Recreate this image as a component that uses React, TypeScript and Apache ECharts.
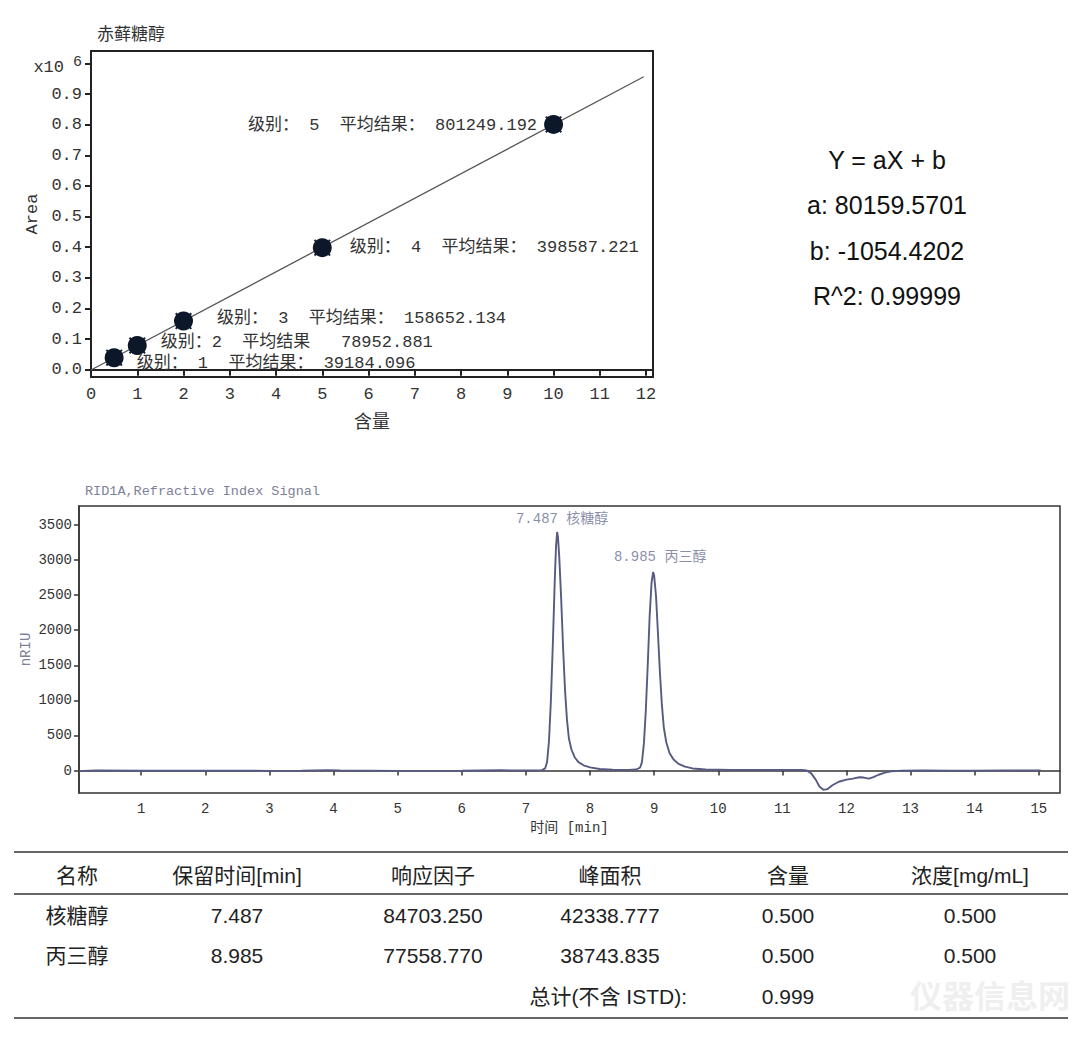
import React, { useEffect, useRef } from "react";
import * as echarts from "echarts";

// ---------- calibration data ----------
const calAmounts = [0.5, 1, 2, 5, 10];
const calAreas = [39184.096, 78952.881, 158652.134, 398587.221, 801249.192];
const calLabels = [
  "级别： 1  平均结果： 39184.096",
  "级别：2  平均结果   78952.881",
  "级别： 3  平均结果： 158652.134",
  "级别： 4  平均结果： 398587.221",
  "级别： 5  平均结果： 801249.192",
];
const fitLine = [
  [0, -1054.42],
  [11.95, 956853],
];
const calXTicks = [0, 1, 2, 3, 4, 5, 6, 7, 8, 9, 10, 11, 12];
const calYTicks = [0, 100000, 200000, 300000, 400000, 500000, 600000, 700000, 800000, 900000, 1000000];
const calTitle = "赤藓糖醇";

const eqLines = ["Y = aX + b", "a: 80159.5701", "b: -1054.4202", "R^2: 0.99999"];

// ---------- chromatogram data ----------
const chromTrace = [
  [0.03, -12], [0.1, -5], [0.3, 0], [1.0, -2], [2.0, -3], [3.0, -4], [3.5, -2], [3.9, 6], [4.1, 0],
  [5.0, -4], [6.0, -3], [6.6, 5], [6.9, 0], [7.2, 2], [7.25, 5], [7.3, 30], [7.33, 120], [7.36, 420],
  [7.39, 1000], [7.42, 1800], [7.45, 2700], [7.47, 3200], [7.487, 3400], [7.5, 3330], [7.52, 3050],
  [7.55, 2450], [7.58, 1750], [7.61, 1150], [7.64, 730], [7.67, 460], [7.71, 300], [7.76, 190],
  [7.82, 120], [7.9, 75], [8.0, 45], [8.15, 22], [8.35, 12], [8.6, 10], [8.72, 15], [8.78, 40],
  [8.81, 120], [8.84, 380], [8.87, 850], [8.9, 1500], [8.93, 2200], [8.96, 2680], [8.985, 2830],
  [9.0, 2780], [9.03, 2480], [9.06, 1950], [9.09, 1400], [9.12, 950], [9.15, 620], [9.19, 400],
  [9.24, 250], [9.3, 160], [9.38, 95], [9.48, 55], [9.6, 30], [9.8, 15], [10.2, 10], [10.8, 10],
  [11.3, 8], [11.38, 0], [11.45, -40], [11.52, -130], [11.58, -230], [11.64, -275], [11.7, -265],
  [11.78, -210], [11.88, -160], [12.0, -130], [12.1, -115], [12.2, -95], [12.27, -100], [12.35, -115],
  [12.42, -95], [12.5, -60], [12.6, -30], [12.7, -12], [12.85, -2], [13.2, 0], [13.6, -3], [14.0, -1],
  [14.5, 0], [15.03, 0],
];
const peakTimes = [7.487, 8.985];
const peakHeights = [3400, 2830];
const peakNames = ["核糖醇", "丙三醇"];
const chromXTicks = [1, 2, 3, 4, 5, 6, 7, 8, 9, 10, 11, 12, 13, 14, 15];
const chromYTicks = [0, 500, 1000, 1500, 2000, 2500, 3000, 3500];
const chromTitle = "RID1A,Refractive Index Signal";

// ---------- table ----------
const tableHeader = ["名称", "保留时间[min]", "响应因子", "峰面积", "含量", "浓度[mg/mL]"];
const tableRows = [
  ["核糖醇", "7.487", "84703.250", "42338.777", "0.500", "0.500"],
  ["丙三醇", "8.985", "77558.770", "38743.835", "0.500", "0.500"],
];
const totalLabel = "总计(不含 ISTD):";
const totalValue = "0.999";
const watermark = "仪器信息网";

const MONO = '"Liberation Mono", "Noto Sans CJK SC", monospace';
const SANS = '"Liberation Sans", "Noto Sans CJK SC", sans-serif';
const CJK = '"Noto Sans CJK SC", sans-serif';

// layout only
const calLabelLayout = [
  { position: "right", offset: [8, 6] },
  { position: "right", offset: [9, -3] },
  { position: "right", offset: [19, -3] },
  { position: "right", offset: [13, 0] },
  { position: "left", offset: [-2, 1] },
];
const peakLabelOffsets = [
  [5, -2],
  [7, -4],
];
const colX = [77, 237, 433, 610, 788, 970];
const rowY = [915, 955];

export default function App() {
  const ref = useRef<HTMLDivElement>(null);

  useEffect(() => {
    if (!ref.current) return;
    const chart = echarts.init(ref.current, undefined, { renderer: "svg" });

    const graphics: any[] = [];
    graphics.push({
      type: "text", x: 97, y: 32,
      style: { text: calTitle, fill: "#333", font: `17px ${CJK}`, align: "left", verticalAlign: "middle" },
    });
    eqLines.forEach((t, i) => {
      graphics.push({
        type: "text", x: 887, y: 160 + i * 45.3,
        style: { text: t, fill: "#111", font: `25px ${SANS}`, align: "center", verticalAlign: "middle" },
      });
    });
    graphics.push({
      type: "text", x: 85, y: 491,
      style: { text: chromTitle, fill: "#7d8199", font: `13.5px ${MONO}`, align: "left", verticalAlign: "middle" },
    });
    [852, 894, 1018].forEach((y) => {
      graphics.push({
        type: "line", shape: { x1: 14, y1: y, x2: 1068, y2: y },
        style: { stroke: "#666", lineWidth: 2 },
      });
    });
    tableHeader.forEach((t, i) => {
      graphics.push({
        type: "text", x: colX[i], y: 875,
        style: { text: t, fill: "#222", font: `21px ${SANS}`, align: "center", verticalAlign: "middle" },
      });
    });
    tableRows.forEach((row, r) => {
      row.forEach((t, i) => {
        graphics.push({
          type: "text", x: colX[i], y: rowY[r],
          style: { text: t, fill: "#222", font: `21px ${SANS}`, align: "center", verticalAlign: "middle" },
        });
      });
    });
    graphics.push({
      type: "text", x: 687, y: 996,
      style: { text: totalLabel, fill: "#222", font: `21px ${SANS}`, align: "right", verticalAlign: "middle" },
    });
    graphics.push({
      type: "text", x: colX[4], y: 996,
      style: { text: totalValue, fill: "#222", font: `21px ${SANS}`, align: "center", verticalAlign: "middle" },
    });
    graphics.push({
      type: "text", x: 990, y: 994, z: -1,
      style: { text: watermark, fill: "#efefef", font: `bold 32px ${CJK}`, align: "center", verticalAlign: "middle" },
    });

    const xMark = "path://M0,2L2,0L12,10L22,0L24,2L14,12L24,22L22,24L12,14L2,24L0,22L10,12Z";

    chart.setOption({
      animation: false,
      backgroundColor: "#ffffff",
      graphic: graphics,
      grid: [
        { left: 91, top: 51, width: 562, height: 326, show: true, borderColor: "#222", borderWidth: 2, backgroundColor: "transparent" },
        { left: 79, top: 506, width: 981, height: 287, show: true, borderColor: "#333", borderWidth: 1.5, backgroundColor: "transparent" },
      ],
      xAxis: [
        {
          type: "value", gridIndex: 0, min: 0, max: 12.15,
          name: "含量", nameLocation: "middle", nameGap: 34, nameMoveOverlap: false,
          nameTextStyle: { fontSize: 18, color: "#333", fontFamily: CJK },
          axisLine: { show: true, lineStyle: { color: "#222", width: 2 } },
          axisTick: { show: true, customValues: calXTicks, length: 6, inside: false, lineStyle: { color: "#222", width: 2 } },
          axisLabel: { customValues: calXTicks, margin: 9, fontSize: 17, color: "#333", fontFamily: MONO },
          splitLine: { show: false },
        },
        {
          type: "value", gridIndex: 1, min: 0.03, max: 15.33,
          name: "时间 [min]", nameLocation: "middle", nameGap: 28, nameMoveOverlap: false,
          nameTextStyle: { fontSize: 14, color: "#333", fontFamily: MONO },
          axisLine: { show: true, lineStyle: { color: "#333", width: 1.5 } },
          axisTick: { show: true, customValues: chromXTicks, length: 5, lineStyle: { color: "#333", width: 1.5 } },
          axisLabel: { customValues: chromXTicks, margin: 9, fontSize: 14, color: "#333", fontFamily: MONO },
          splitLine: { show: false },
        },
      ],
      yAxis: [
        {
          type: "value", gridIndex: 0, min: -24000, max: 1041000,
          name: "Area", nameLocation: "middle", nameRotate: 90, nameGap: 50, nameMoveOverlap: false,
          nameTextStyle: { fontSize: 17, color: "#333", fontFamily: MONO },
          axisLine: { show: true, lineStyle: { color: "#222", width: 2 } },
          axisTick: { show: true, customValues: calYTicks, length: 6, lineStyle: { color: "#222", width: 2 } },
          axisLabel: {
            customValues: calYTicks, margin: 9, fontSize: 17, color: "#333", fontFamily: MONO,
            formatter: (v: number) => (v >= 999999 ? "{b|x10}{s| 6}" : (v / 1e6).toFixed(1)),
            rich: {
              b: { fontSize: 17, color: "#333", fontFamily: MONO, padding: [8, 0, 0, 0] },
              s: { fontSize: 15, color: "#333", fontFamily: MONO, padding: [0, 0, 2, 0] },
            },
          },
          splitLine: { show: false },
        },
        {
          type: "value", gridIndex: 1, min: -320, max: 3770,
          name: "nRIU", nameLocation: "middle", nameRotate: 90, nameGap: 46, nameMoveOverlap: false,
          nameTextStyle: { fontSize: 14, color: "#7d8199", fontFamily: MONO },
          axisLine: { show: true, lineStyle: { color: "#333", width: 1.5 } },
          axisTick: { show: true, customValues: chromYTicks, length: 5, lineStyle: { color: "#333", width: 1.5 } },
          axisLabel: {
            customValues: chromYTicks, margin: 7, fontSize: 14, color: "#333", fontFamily: MONO,
            formatter: (v: number) => String(Math.round(v)),
          },
          splitLine: { show: false },
        },
      ],
      series: [
        {
          type: "line", xAxisIndex: 0, yAxisIndex: 0, data: fitLine, symbol: "none",
          lineStyle: { color: "#555", width: 1.3 }, z: 1,
        },
        {
          type: "scatter", xAxisIndex: 0, yAxisIndex: 0, symbol: xMark, symbolSize: 17,
          itemStyle: { color: "#1b2636", opacity: 1 }, z: 2,
          data: calAmounts.map((x, i) => [x, calAreas[i]]),
        },
        {
          type: "scatter", xAxisIndex: 0, yAxisIndex: 0, symbol: "circle", symbolSize: 19,
          itemStyle: { color: "#0c1829", opacity: 1 }, z: 3,
          data: calAmounts.map((x, i) => ({
            value: [x, calAreas[i]],
            label: {
              show: true,
              formatter: calLabels[i],
              position: calLabelLayout[i].position,
              offset: calLabelLayout[i].offset,
              fontSize: 17, color: "#333", fontFamily: MONO,
            },
          })),
        },
        {
          type: "line", xAxisIndex: 1, yAxisIndex: 1, data: chromTrace, symbol: "none",
          lineStyle: { color: "#565b82", width: 1.9 },
        },
        {
          type: "scatter", xAxisIndex: 1, yAxisIndex: 1, symbolSize: 0, silent: true,
          data: peakTimes.map((t, i) => ({
            value: [t, peakHeights[i]],
            label: {
              show: true, position: "top", distance: 4, offset: peakLabelOffsets[i],
              formatter: `${t.toFixed(3)} ${peakNames[i]}`,
              fontSize: 14, color: "#6a6f94", fontFamily: MONO,
            },
          })),
        },
      ],
    });

    return () => chart.dispose();
  }, []);

  return (
    <div
      ref={ref}
      style={{ position: "absolute", left: 0, top: 0, width: 1080, height: 1038, background: "#fff" }}
    />
  );
}
